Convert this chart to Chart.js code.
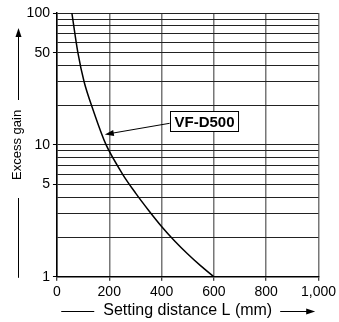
<!DOCTYPE html>
<html><head><meta charset="utf-8">
<script src="https://cdn.jsdelivr.net/npm/chart.js@4/dist/chart.umd.min.js"></script>
<style>html,body{margin:0;padding:0;background:#fff;}#wrap{width:339px;height:322px;position:relative;}canvas{display:block;}</style>
</head><body><div id="wrap"><canvas id="c" width="339" height="322"></canvas></div>
<script>
// ---- data ----
const distances = [57, 80, 104, 132, 188, 250, 300, 350, 400, 450, 500, 550, 600];
const excessGain = [100, 50, 30, 20, 10, 6.04, 4.33, 3.2, 2.41, 1.87, 1.49, 1.21, 1];
const xTickValues = [0, 200, 400, 600, 800, 1000];
const yGridValues = [1, 2, 3, 4, 5, 6, 7, 8, 9, 10, 20, 30, 40, 50, 60, 70, 80, 90, 100];
const yLabelValues = [1, 5, 10, 50, 100];
const seriesName = 'VF-D500';
const labelAnchor = [431, 15.1];   // data coords of the callout box (left, middle)
const arrowTarget = [183, 12];     // data coords of the arrow tip
const xTitle = 'Setting distance L (mm)';
const yTitle = 'Excess gain';

const FONT = "'Liberation Sans', Arial, Helvetica, sans-serif";

function arrowHead(ctx, x, y, ang, len, wid) {
  ctx.save();
  ctx.translate(x, y); ctx.rotate(ang);
  ctx.beginPath();
  ctx.moveTo(0, 0); ctx.lineTo(-len, -wid / 2); ctx.lineTo(-len, wid / 2); ctx.closePath();
  ctx.fill();
  ctx.restore();
}

const decor = {
  id: 'decor',
  afterDraw(chart) {
    const ctx = chart.ctx;
    const xs = chart.scales.x, ys = chart.scales.y;
    const ca = chart.chartArea;
    ctx.save();
    ctx.strokeStyle = '#000'; ctx.fillStyle = '#000'; ctx.lineWidth = 1;
    // x title decorations
    ctx.font = '16px ' + FONT;
    const xtw = ctx.measureText(xTitle).width;
    const xtc = (ca.left + ca.right) / 2;
    const xty = Math.round(xs.bottom - 14.4 / 2) + 0.5;
    ctx.beginPath();
    ctx.moveTo(xtc - xtw / 2 - 42, xty); ctx.lineTo(xtc - xtw / 2 - 9, xty);
    ctx.moveTo(xtc + xtw / 2 + 8, xty); ctx.lineTo(xtc + xtw / 2 + 36, xty);
    ctx.stroke();
    arrowHead(ctx, xtc + xtw / 2 + 43, xty, 0, 9, 6);
    // y title decorations
    const ytx = Math.round(ys.left + 4 + 15.6 / 2) + 0.5;
    ctx.beginPath();
    ctx.moveTo(ytx, ca.top + 22); ctx.lineTo(ytx, ca.top + 87);
    ctx.moveTo(ytx, ca.top + 185); ctx.lineTo(ytx, ca.bottom + 1);
    ctx.stroke();
    arrowHead(ctx, ytx, ca.top + 15, -Math.PI / 2, 9, 6);
    // callout
    const bx = xs.getPixelForValue(labelAnchor[0]);
    const by = ys.getPixelForValue(labelAnchor[1]);
    const tx = xs.getPixelForValue(arrowTarget[0]);
    const ty = ys.getPixelForValue(arrowTarget[1]);
    ctx.font = 'bold 15px ' + FONT;
    const lw = ctx.measureText(seriesName).width;
    const bw = lw + 8, bh = 20;
    const sx = bx, sy = by + 2;
    const ang = Math.atan2(ty - sy, tx - sx);
    ctx.beginPath();
    ctx.moveTo(sx, sy);
    ctx.lineTo(tx - Math.cos(ang) * 7, ty - Math.sin(ang) * 7);
    ctx.stroke();
    arrowHead(ctx, tx, ty, ang, 9, 6);
    ctx.fillStyle = '#fff';
    ctx.fillRect(Math.round(bx) + 0.5, Math.round(by - bh / 2) + 0.5, bw, bh);
    ctx.strokeRect(Math.round(bx) + 0.5, Math.round(by - bh / 2) + 0.5, bw, bh);
    ctx.fillStyle = '#000';
    ctx.textBaseline = 'middle'; ctx.textAlign = 'left';
    ctx.fillText(seriesName, Math.round(bx) + 4.5, Math.round(by) + 1.5);
    ctx.restore();
  }
};

new Chart(document.getElementById('c'), {
  type: 'line',
  data: {
    datasets: [{
      label: seriesName,
      data: distances.map((d, i) => ({ x: d, y: excessGain[i] })),
      borderColor: '#000',
      borderWidth: 1.5,
      pointRadius: 0,
      fill: false,
      tension: 0.3
    }]
  },
  options: {
    responsive: false,
    animation: false,
    devicePixelRatio: 1,
    layout: { padding: { left: 6, right: 0, top: 13, bottom: 4 } },
    plugins: { legend: { display: false }, tooltip: { enabled: false } },
    scales: {
      x: {
        type: 'linear', min: 0, max: 1000,
        afterBuildTicks: s => { s.ticks = xTickValues.map(v => ({ value: v })); },
        ticks: {
          color: '#000', font: { family: FONT, size: 14 }, padding: 3, maxRotation: 0, autoSkip: false,
          callback: v => v.toLocaleString('en-US')
        },
        grid: { color: '#777', lineWidth: 1.5, tickLength: 4, tickColor: '#000', tickWidth: 1 },
        border: { color: '#000', width: 1.5 },
        title: { display: true, text: xTitle, color: '#000', font: { family: FONT, size: 16, lineHeight: 0.9 }, padding: { top: 0, bottom: 0 } }
      },
      y: {
        type: 'logarithmic', min: 1, max: 100,
        afterBuildTicks: s => { s.ticks = yGridValues.map(v => ({ value: v })); },
        ticks: {
          color: '#000', font: { family: FONT, size: 14 }, padding: 3, autoSkip: false,
          callback: v => (yLabelValues.includes(v) ? String(v) : '')
        },
        grid: {
          color: '#222', lineWidth: 1, tickLength: 4, tickWidth: 1,
          tickColor: c => (c.tick && yLabelValues.includes(c.tick.value) ? '#000' : 'rgba(0,0,0,0)')
        },
        border: { color: '#000', width: 1.5 },
        title: { display: true, text: yTitle, color: '#000', font: { family: FONT, size: 13 }, padding: { top: 4, bottom: -2 } }
      }
    }
  },
  plugins: [decor]
});
</script></body></html>
